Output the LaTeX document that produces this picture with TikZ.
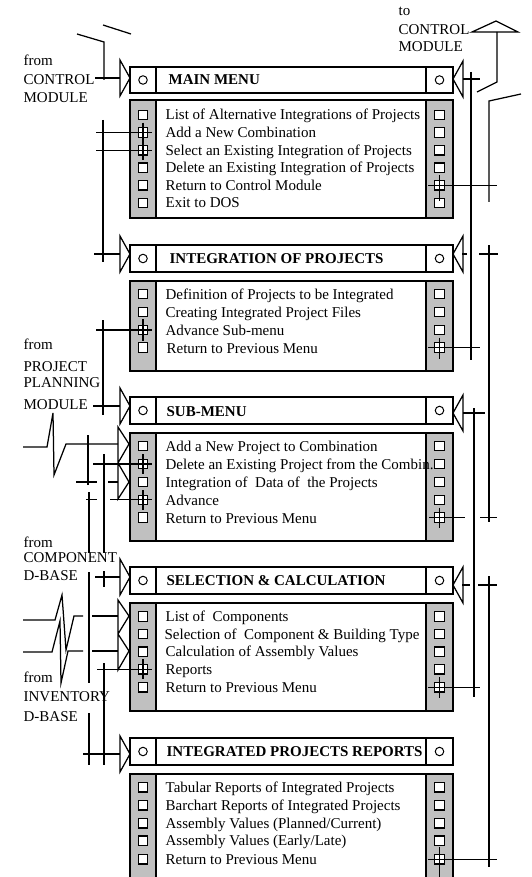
\documentclass[tikz,border=0pt]{standalone}
\usepackage{fontspec}
\setmainfont{Liberation Serif}
\usetikzlibrary{calc}
\definecolor{colgray}{RGB}{192,192,192}

\begin{document}
\begin{tikzpicture}[x=1pt,y=-1pt,line width=1.25pt,
      txt/.style={anchor=base west,inner sep=0pt,font=\fontsize{15}{17}\selectfont},
      hdr/.style={anchor=base west,inner sep=0pt,font=\fontsize{15}{17}\selectfont\bfseries},
      sq/.style={draw,fill=white,minimum size=9.5pt,inner sep=0pt,line width=1.3pt},
      ring/.style={draw,circle,minimum size=8.5pt,inner sep=0pt,line width=1pt},
      frm/.style={line width=1.5pt}]
    \useasboundingbox (0,0) rectangle (531,877);
    \clip (0,0) rectangle (531,877);
    % --- header bars ---
    \foreach \t/\b/\nm in {67/93/hmn,245/272/hin,397/424/hsb,567/594/hsl,738/765/hrp} {
      \draw[frm,fill=white] (130,\t) rectangle (453,\b);
      \draw[frm] (156,\t) -- (156,\b) (426,\t) -- (426,\b);
      \node[ring] (\nm L) at (143,{(\t+\b)/2}) {};
      \node[ring] (\nm R) at (439.5,{(\t+\b)/2}) {};
    }
    % --- menu bodies ---
    \foreach \t/\b in {100/218,281/371,433/541,603/711,774/900} {
      \fill[colgray] (130,\t) rectangle (156,\b) (426,\t) rectangle (453,\b);
      \draw[frm] (130,\t) rectangle (453,\b);
      \draw[frm] (156,\t) -- (156,\b) (426,\t) -- (426,\b);
    }
    \foreach \y [count=\i] in {115,132.6,150.2,167.8,185.4,203}
      {\node[sq] (mnL\i) at (143,\y) {}; \node[sq] (mnR\i) at (439.5,\y) {};}
    \foreach \y [count=\i] in {294,312,330,347.5}
      {\node[sq] (inL\i) at (143,\y) {}; \node[sq] (inR\i) at (439.5,\y) {};}
    \foreach \y [count=\i] in {446,464,482,500,517.5}
      {\node[sq] (sbL\i) at (143,\y) {}; \node[sq] (sbR\i) at (439.5,\y) {};}
    \foreach \y [count=\i] in {616.5,634,651.7,669.3,687.3}
      {\node[sq] (slL\i) at (143,\y) {}; \node[sq] (slR\i) at (439.5,\y) {};}
    \foreach \y [count=\i] in {787.3,805.3,823.3,840.7,859.3}
      {\node[sq] (rpL\i) at (143,\y) {}; \node[sq] (rpR\i) at (439.5,\y) {};}
    % --- titles ---
    \node[hdr] (tmn) at (168,85) {MAIN MENU};
    \node[hdr] (tin) at (169,263.5) {INTEGRATION OF PROJECTS};
    \node[hdr] (tsb) at (166,416) {SUB-MENU};
    \node[hdr] (tsl) at (166,585.5) {SELECTION \& CALCULATION};
    \node[hdr] (trp) at (166,756.5) {INTEGRATED PROJECTS REPORTS};
    % --- main menu items ---
    \node[txt] (mn1) at (165,120) {List of Alternative Integrations of Projects};
    \node[txt] (mn2) at (165,137.6) {Add a New Combination};
    \node[txt] (mn3) at (165,155.2) {Select an Existing Integration of Projects};
    \node[txt] (mn4) at (165,172.8) {Delete an Existing Integration of Projects};
    \node[txt] (mn5) at (165,190.4) {Return to Control Module};
    \node[txt] (mn6) at (165,208) {Exit to DOS};
    % --- integration items ---
    \node[txt] (in1) at (165,299) {Definition of Projects to be Integrated};
    \node[txt] (in2) at (165,317) {Creating Integrated Project Files};
    \node[txt] (in3) at (165,335) {Advance Sub-menu};
    \node[txt] (in4) at (166,353) {Return to Previous Menu};
    % --- sub-menu items ---
    \node[txt] (sb1) at (165,451) {Add a New Project to Combination};
    \node[txt] (sb2) at (165,469) {Delete an Existing Project from the Combin.};
    \node[txt] (sb3) at (165,487) {Integration of~ Data of~ the Projects};
    \node[txt] (sb4) at (165,505) {Advance};
    \node[txt] (sb5) at (165,523.5) {Return to Previous Menu};
    % --- selection items ---
    \node[txt] (sl1) at (165,621.5) {List of~ Components};
    \node[txt] (sl2) at (164,639) {Selection of~ Component \& Building Type};
    \node[txt] (sl3) at (165,656.7) {Calculation of Assembly Values};
    \node[txt] (sl4) at (165,674.3) {Reports};
    \node[txt] (sl5) at (165,692.3) {Return to Previous Menu};
    % --- report items ---
    \node[txt] (rp1) at (165,792.3) {Tabular Reports of Integrated Projects};
    \node[txt] (rp2) at (165,810.3) {Barchart Reports of Integrated Projects};
    \node[txt] (rp3) at (165,828.3) {Assembly Values (Planned/Current)};
    \node[txt] (rp4) at (165,845.7) {Assembly Values (Early/Late)};
    \node[txt] (rp5) at (165,864.3) {Return to Previous Menu};
    % --- outside modules ---
    \node[txt] (fcm1) at (23,65.5) {from};
    \node[txt] (fcm2) at (23,85) {CONTROL};
    \node[txt] (fcm3) at (23,102.3) {MODULE};
    \node[txt] (tcm1) at (398,16) {to};
    \node[txt] (tcm2) at (398,35) {CONTROL};
    \node[txt] (tcm3) at (398,51.7) {MODULE};
    \node[txt] (fpp1) at (23,349.5) {from};
    \node[txt] (fpp2) at (23,371.7) {PROJECT};
    \node[txt] (fpp3) at (23,387.7) {PLANNING};
    \node[txt] (fpp4) at (23,409) {MODULE};
    \node[txt] (fcd1) at (23,547.5) {from};
    \node[txt] (fcd2) at (23,562.5) {COMPONENT};
    \node[txt] (fcd3) at (23,580.5) {D-BASE};
    \node[txt] (fid1) at (23,682) {from};
    \node[txt] (fid2) at (23,701.7) {INVENTORY};
    \node[txt] (fid3) at (23,721) {D-BASE};
    % --- entry triangles ---
    \foreach \y in {78,254,406,577,754} \draw (120,\y-18) -- (130,\y) -- (120,\y+18) -- cycle;
    \foreach \y in {79,254,413,585} \draw (463,\y-18) -- (453,\y) -- (463,\y+18) -- cycle;
    \draw (118,427) -- (129,444) -- (118,463) -- (129,482) -- (118,499) -- cycle;
    \draw (118,600) -- (129,616) -- (118,634) -- (129,651) -- (118,670) -- cycle;
    \draw (472,32) -- (496,21) -- (518,32) -- cycle;
    % left side links
    \draw (104,80) -- (104,42) -- (77,34); \draw (103,25) -- (131,34);
    \draw (95,78) -- (120,78);
    \draw (103,120) -- (103,262);
    \draw (96,132.6) -- (152,132.6); \draw (mnL2) ++(0,-10) -- ++(0,20);
    \draw (96,150.2) -- (152,150.2); \draw (mnL3) ++(0,-10) -- ++(0,20);
    \draw (94,254) -- (120,254);
    \draw (103,320) -- (103,415);
    \draw (96,330) -- (152,330); \draw (inL3) ++(0,-11) -- ++(0,22);
    \draw (93,406) -- (120,406);
    \draw (23,447) -- (47,447) -- (53,413) -- (54,475) -- (66,444) -- (118,444);
    \draw (88,435) -- (88,485);
    \draw (76,482) -- (97,482); \draw (108,482) -- (118,482);
    \draw (93,464) -- (152,464); \draw (sbL2) ++(0,-10) -- ++(0,20);
    \draw (86,499.5) -- (97,499.5); \draw (110,499.5) -- (152,499.5); \draw (sbL4) ++(0,-10) -- ++(0,20);
    \draw (104,454) -- (104,553); \draw (104,571) -- (104,587);
    \draw (89,492) -- (89,553); \draw (89,572) -- (89,683); \draw (89,713) -- (89,765);
    \draw (95,577) -- (120,577);
    \draw (23,620) -- (55,620) -- (62,595) -- (66,650) -- (74,616) -- (83,616); \draw (92,616) -- (118,616);
    \draw (23,652) -- (52,652) -- (60,621) -- (61,683) -- (68,651) -- (83,651); \draw (92,651) -- (118,651);
    \draw (97,669.3) -- (152,669.3); \draw (slL4) ++(0,-10) -- ++(0,20);
    \draw (104,663) -- (104,765);
    \draw (83,754) -- (120,754);
    % right side links
    \draw (497,32) -- (497,82) -- (477,92);
    \draw (489,202) -- (489,101) -- (521,94);
    \draw (463,79) -- (480,79); \draw (471,72) -- (471,360);
    \draw (428,185.4) -- (497,185.4); \draw (mnR5) ++(0,-10.5) -- ++(0,26);
    \draw (462,254) -- (467,254); \draw (479,254) -- (498,254); \draw (489,245) -- (489,522);
    \draw (428,347.5) -- (480,347.5); \draw (inR4) ++(0,-10) -- ++(0,21);
    \draw (463,413) -- (485,413); \draw (474,408) -- (474,697);
    \draw (429,517.5) -- (465,517.5); \draw (480,517.5) -- (497,517.5); \draw (sbR5) ++(0,-10) -- ++(0,20);
    \draw (462,585) -- (470,585); \draw (478,585) -- (497,585); \draw (489,576) -- (489,867);
    \draw (428,687.3) -- (480,687.3); \draw (slR5) ++(0,-10) -- ++(0,21);
    \draw (428,859.3) -- (497,859.3); \draw (rpR5) ++(0,-12) -- ++(0,30);
\end{tikzpicture}
\end{document}
